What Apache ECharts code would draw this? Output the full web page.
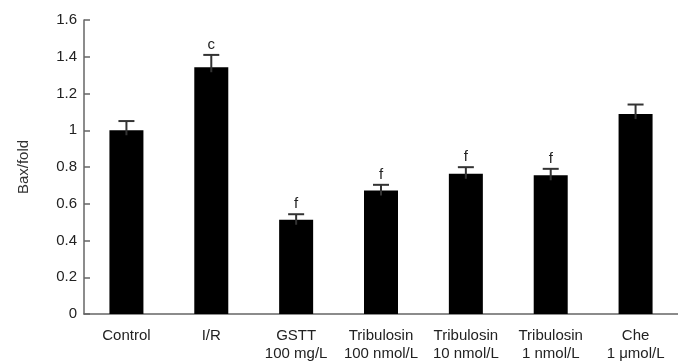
<!DOCTYPE html>
<html><head><meta charset="utf-8">
<script src="https://cdn.jsdelivr.net/npm/echarts@6/dist/echarts.min.js"></script>
<style>html,body{margin:0;padding:0;background:#fff}#c{width:678px;height:363px}</style>
</head><body><div id="c"></div>
<script>
const categories = ['Control\n ', 'I/R\n ', 'GSTT\n100 mg/L', 'Tribulosin\n100 nmol/L', 'Tribulosin\n10 nmol/L', 'Tribulosin\n1 nmol/L', 'Che\n1 \u03bcmol/L'];
const values = [1.00, 1.343, 0.513, 0.672, 0.763, 0.755, 1.088];
const errors = [0.050, 0.067, 0.030, 0.031, 0.036, 0.035, 0.052];
const marks = ['', 'c', 'f', 'f', 'f', 'f', ''];
const yTicks = [0, 0.2, 0.4, 0.6, 0.8, 1, 1.2, 1.4, 1.6];

const FONT = 'Liberation Sans, Arial, sans-serif';
const chart = echarts.init(document.getElementById('c'));
chart.setOption({
  animation: false,
  grid: {left: 84, right: 0, top: 20, bottom: 48},
  xAxis: {
    type: 'category', data: categories,
    axisLine: {lineStyle: {color: '#666', width: 1.5}},
    axisTick: {show: false},
    axisLabel: {color: '#222', fontSize: 15, fontFamily: FONT, lineHeight: 18, margin: 13, interval: 0}
  },
  yAxis: {
    type: 'value', min: yTicks[0], max: yTicks[yTicks.length - 1], interval: 0.2,
    name: 'Bax/fold', nameLocation: 'middle', nameGap: 53,
    nameTextStyle: {color: '#333', fontSize: 15, fontFamily: FONT},
    splitLine: {show: false},
    axisLine: {show: true, lineStyle: {color: '#666', width: 1.5}},
    axisTick: {show: true, inside: true, length: 6, lineStyle: {color: '#666', width: 1.5}},
    axisLabel: {color: '#222', fontSize: 15, fontFamily: FONT, margin: 7}
  },
  series: [
    {type: 'bar', data: values, barWidth: 34, itemStyle: {color: '#000'}, z: 2},
    {
      type: 'custom', z: 3,
      data: values.map((v, i) => [i, v, v + errors[i], marks[i]]),
      renderItem: function (params, api) {
        const x = api.value(0);
        const top = api.coord([x, api.value(1)]);
        const hi = api.coord([x, api.value(2)]);
        const children = [
          {type: 'line', shape: {x1: hi[0], y1: hi[1], x2: top[0], y2: top[1] + 5}, style: {stroke: '#333', lineWidth: 2}},
          {type: 'line', shape: {x1: hi[0] - 8, y1: hi[1], x2: hi[0] + 8, y2: hi[1]}, style: {stroke: '#333', lineWidth: 2}}
        ];
        const m = api.value(3);
        if (m) {
          children.push({type: 'text', style: {text: m, x: hi[0], y: hi[1] - 10, align: 'center', verticalAlign: 'middle', fill: '#222', font: '15px ' + FONT}});
        }
        return {type: 'group', children: children};
      }
    }
  ]
});
</script></body></html>
